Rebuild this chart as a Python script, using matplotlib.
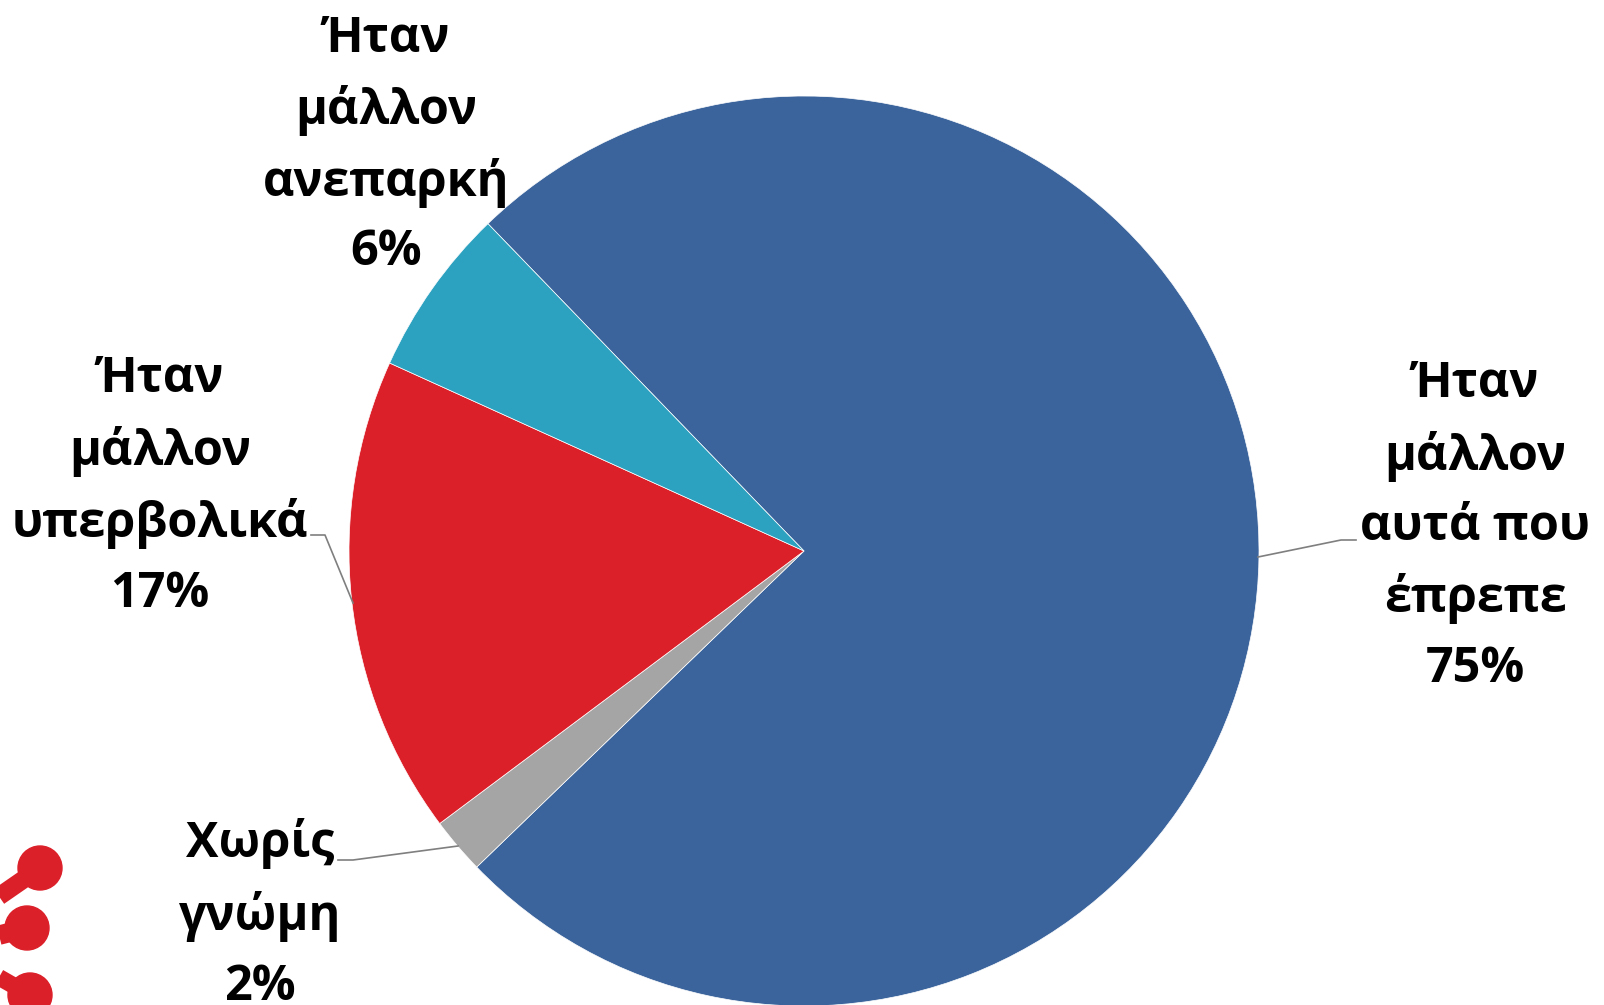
import matplotlib
matplotlib.use("Agg")
import matplotlib.pyplot as plt
from matplotlib.patches import Circle

labels = ["Ήταν\nμάλλον\nαυτά που\nέπρεπε\n75%", "Χωρίς\nγνώμη\n2%", "Ήταν\nμάλλον\nυπερβολικά\n17%", "Ήταν\nμάλλον\nανεπαρκή\n6%"]
values = [75, 2, 17, 6]
colors = ["#3B649C", "#A5A5A5", "#DC202A", "#2CA1C0"]

label_x = [1475, 260, 160, 386]
label_y = [527, 915, 487, 146]

# leader lines in pixels
leader_lines = [
    ([1258, 1341, 1356], [557, 540, 540]),
    ([458, 353, 338], [846, 860, 860]),
    ([353, 325, 311], [603, 535, 535]),
]

# logo fragment at bottom left
logo_x = [40, 27, 30]
logo_y = [868, 928, 995]
logo_r = [22, 22, 22]
logo_from_x = [-12, -12, -12]
logo_from_y = [904, 938, 971]
logo_lw = [13, 14, 12]

W, H = 1604, 1005
plt.rcParams['font.family'] = ['Open Sans', 'DejaVu Sans']

fig = plt.figure(figsize=(W / 100, H / 100), dpi=100)
bg = fig.add_axes([0, 0, 1, 1])
bg.set_xlim(0, W)
bg.set_ylim(H, 0)
bg.axis("off")

cx, cy, r = 804, 551, 455
ax = fig.add_axes([(cx - r) / W, 1 - (cy + r) / H, 2 * r / W, 2 * r / H])
# start so the big slice ends at the top-left
ax.pie(values, colors=colors, startangle=134, counterclock=False, radius=1,
       wedgeprops=dict(linewidth=0.5, edgecolor="white"))
ax.set_xlim(-1, 1)
ax.set_ylim(-1, 1)
ax.set_zorder(1)

over = fig.add_axes([0, 0, 1, 1], facecolor="none")
over.set_xlim(0, W)
over.set_ylim(H, 0)
over.axis("off")
over.set_zorder(2)

for xs, ys in leader_lines:
    over.plot(xs, ys, color="#7F7F7F", lw=1.2)

for t, x, y in zip(labels, label_x, label_y):
    over.text(x, y, t, ha="center", va="center", fontsize=35, fontweight="bold", color="black", linespacing=1.56)

for x, y, rad, x0, y0, lw in zip(logo_x, logo_y, logo_r, logo_from_x, logo_from_y, logo_lw):
    over.plot([x0, x], [y0, y], color="#DC202A", lw=lw, solid_capstyle="butt")
    over.add_patch(Circle((x, y), rad, color="#DC202A"))

fig.savefig("out.png", dpi=100)
